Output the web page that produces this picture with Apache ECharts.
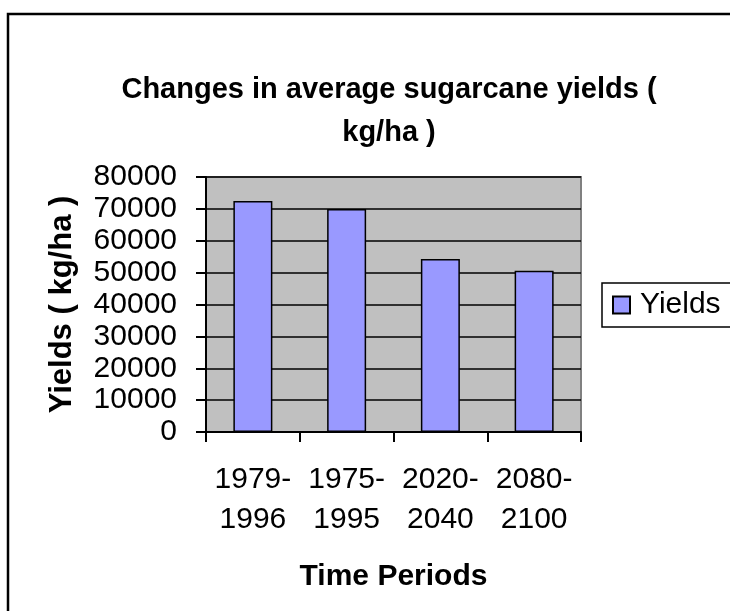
<!DOCTYPE html>
<html>
<head>
<meta charset="utf-8">
<script src="https://cdn.jsdelivr.net/npm/echarts@6/dist/echarts.min.js"></script>
<style>
    html, body { margin: 0; padding: 0; background: #fff; }
    #chart { width: 730px; height: 611px; }
</style>
</head>
<body>
<div id="chart"></div>
<script>
var periods = ['1979-\n1996', '1975-\n1995', '2020-\n2040', '2080-\n2100'];
var yields = [72500, 70000, 54300, 50600];
var yTicks = [0, 10000, 20000, 30000, 40000, 50000, 60000, 70000, 80000];

var font = "'Liberation Sans', Arial, sans-serif";
var chart = echarts.init(document.getElementById('chart'));

var option = {
    backgroundColor: '#ffffff',
    animation: false,
    title: {
        text: 'Changes in average sugarcane yields (\nkg/ha )',
        left: 384,
        top: 63,
        textAlign: 'center',
        textStyle: {
            fontFamily: font,
            fontSize: 29,
            fontWeight: 'bold',
            color: '#000',
            lineHeight: 43
        }
    },
    legend: {
        data: ['Yields'],
        left: 602,
        top: 283,
        orient: 'vertical',
        icon: 'rect',
        itemWidth: 17,
        itemHeight: 17,
        padding: [7, 20, 7, 10],
        borderColor: '#000',
        borderWidth: 1.5,
        backgroundColor: '#fff',
        textStyle: {
            fontFamily: font,
            fontSize: 30,
            color: '#000',
            padding: [0, 0, 0, 5]
        }
    },
    grid: {
        left: 206,
        top: 177,
        width: 375,
        height: 255,
        show: true,
        backgroundColor: '#c0c0c0',
        borderColor: '#808080',
        borderWidth: 2
    },
    xAxis: {
        type: 'category',
        data: periods,
        name: 'Time Periods',
        nameLocation: 'middle',
        nameGap: 130,
        nameTextStyle: { fontFamily: font, fontSize: 30, fontWeight: 'bold', color: '#000' },
        axisLine: { lineStyle: { color: '#000', width: 2 } },
        axisTick: { show: true, length: 10, lineStyle: { color: '#000', width: 2 } },
        axisLabel: {
            interval: 0,
            fontFamily: font,
            fontSize: 30,
            color: '#000',
            lineHeight: 40,
            margin: 28
        }
    },
    yAxis: {
        type: 'value',
        min: yTicks[0],
        max: yTicks[yTicks.length - 1],
        interval: 10000,
        name: 'Yields ( kg/ha )',
        nameLocation: 'middle',
        nameRotate: 90,
        nameGap: 128,
        nameTextStyle: { fontFamily: font, fontSize: 31, fontWeight: 'bold', color: '#000' },
        axisLine: { show: true, lineStyle: { color: '#000', width: 2 } },
        axisTick: { show: true, length: 10, lineStyle: { color: '#000', width: 2 } },
        axisLabel: {
            fontFamily: font,
            fontSize: 30,
            color: '#000',
            margin: 29,
            formatter: function (v) { return String(v); }
        },
        splitLine: { show: true, lineStyle: { color: '#000', width: 1.5 } }
    },
    series: [
        {
            name: 'Yields',
            type: 'bar',
            data: yields,
            barWidth: 39,
            itemStyle: {
                color: '#9999ff',
                borderColor: '#000',
                borderWidth: 1.5
            }
        }
    ],
    graphic: [
        {
            type: 'rect',
            shape: { x: 8, y: 14, width: 760, height: 640 },
            style: { fill: 'none', stroke: '#000', lineWidth: 2.5 },
            silent: true,
            z: 100
        }
    ]
};
chart.setOption(option);
</script>
</body>
</html>
